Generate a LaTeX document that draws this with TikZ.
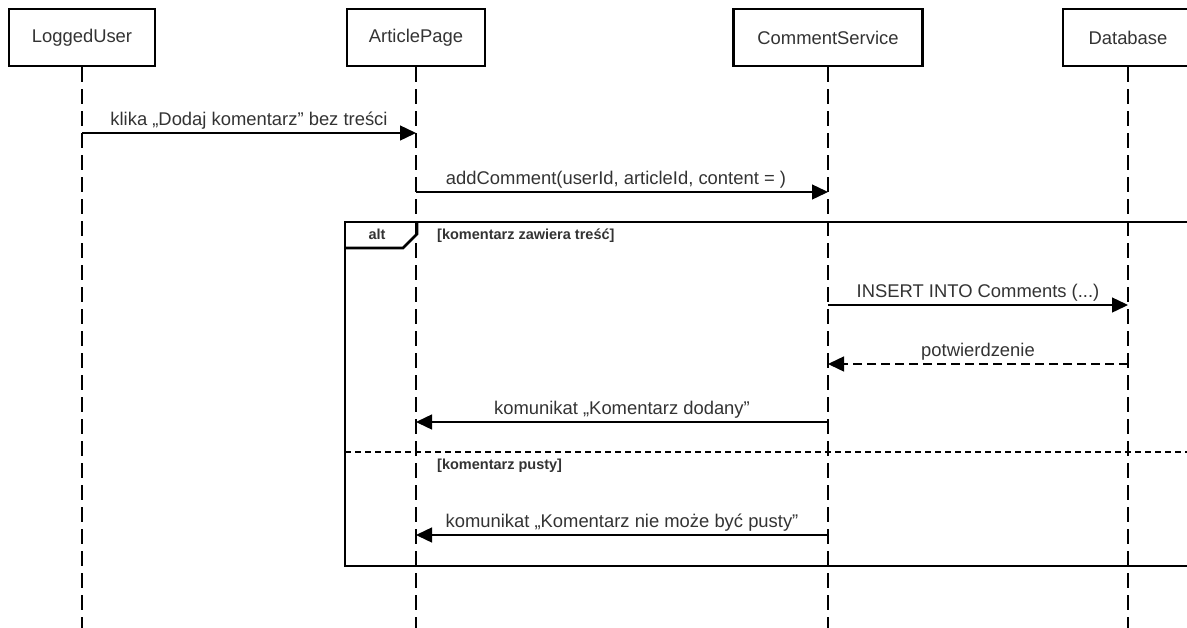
\documentclass[tikz,border=0pt]{standalone}
\usepackage{fontspec}
\setmainfont{Liberation Sans}
\usetikzlibrary{arrows.meta}
\definecolor{txt}{HTML}{333333}
\begin{document}
\begin{tikzpicture}[x=1pt,y=-1pt,
  actor/.style={draw=black,line width=2.8pt,fill=white,minimum height=57pt,inner sep=0pt,
    font=\fontsize{18.4}{22}\selectfont,text=txt},
  lifeline/.style={draw=black,line width=1.4pt,dash pattern=on 15pt off 7pt},
  msg/.style={draw=black,line width=1.4pt,-{Triangle[length=16pt,width=15pt]}},
  reply/.style={msg,dash pattern=on 9pt off 5pt},
  msglabel/.style={font=\fontsize{18.4}{22}\selectfont,text=txt,inner sep=0pt,anchor=base,yshift=7.5pt},
  guard/.style={font=\bfseries\fontsize{14.5}{16}\selectfont,text=txt,inner sep=0pt,anchor=base west},
  frameline/.style={draw=black,line width=2.8pt},
  separator/.style={draw=black,line width=2.4pt,dash pattern=on 6pt off 4pt},
]
\useasboundingbox (0,0) rectangle (1187,627);
\clip (0,0) rectangle (1187,627);

% participants
\node[actor,minimum width=146pt] (lu) at (82,37.5) {LoggedUser};
\node[actor,minimum width=138pt] (ap) at (416,37.5) {ArticlePage};
\node[actor,minimum width=189pt] (cs) at (828,37.5) {CommentService};
\node[actor,minimum width=130pt] (db) at (1128,37.5) {Database};

% bottom of the lifelines and message rows
\coordinate (bot) at (0,630);
\coordinate (y1) at (0,133);
\coordinate (y2) at (0,192);
\coordinate (y3) at (0,305);
\coordinate (y4) at (0,364);
\coordinate (y5) at (0,422);
\coordinate (y6) at (0,535);

% alt combined fragment
\draw[frameline] (345,222) rectangle (1200,566);
\draw[frameline] (345,248) -- (403,248) -- (417,234) -- (417,222);
\node[font=\bfseries\fontsize{14.5}{16}\selectfont,text=txt,inner sep=0pt,anchor=base] (altlbl) at (377,239) {alt};
\node[guard] (g1) at (437,239) {[komentarz zawiera treść]};
\draw[separator] (345,452) -- (1200,452);
\node[guard] (g2) at (437,469) {[komentarz pusty]};

% lifelines
\foreach \p in {lu,ap,cs,db}
  \draw[lifeline] (\p.south) -- (\p |- bot);

% messages
\draw[msg] (lu |- y1) -- node[msglabel] {klika „Dodaj komentarz” bez treści} (ap |- y1);
\draw[msg] (ap |- y2) -- node[msglabel,xshift=-6pt] {addComment(userId, articleId, content = )} (cs |- y2);
\draw[msg] (cs |- y3) -- node[msglabel] {INSERT INTO Comments (...)} (db |- y3);
\draw[reply] (db |- y4) -- node[msglabel] {potwierdzenie} (cs |- y4);
\draw[msg] (cs |- y5) -- node[msglabel] {komunikat „Komentarz dodany”} (ap |- y5);
\draw[msg] (cs |- y6) -- node[msglabel] {komunikat „Komentarz nie może być pusty”} (ap |- y6);
\end{tikzpicture}
\end{document}
